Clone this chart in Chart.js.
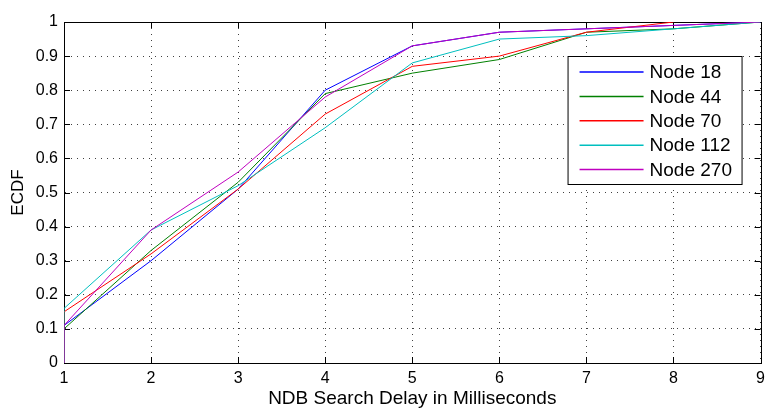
<!DOCTYPE html>
<html>
<head>
<meta charset="utf-8">
<script src="https://cdn.jsdelivr.net/npm/chart.js@4/dist/chart.umd.min.js"></script>
<style>
  html, body { margin: 0; padding: 0; background: #fff; }
  canvas { display: block; }
</style>
</head>
<body>
<canvas id="grafico" width="771" height="408"></canvas>
<script>
// datos (ECDF por nodo)
const nombres = ["Node 18", "Node 44", "Node 70", "Node 112", "Node 270"];
const colores = ["#0000ff", "#008000", "#ff0000", "#00bfbf", "#bf00bf"];

const retardoX = [1, 1, 2, 3, 4, 5, 6, 7, 8, 9];
const nodo18  = [0, 0.11, 0.30, 0.51, 0.80, 0.93, 0.97, 0.98, 0.99, 1.00];
const nodo44  = [0, 0.10, 0.33, 0.53, 0.79, 0.85, 0.89, 0.97, 0.98, 1.00];
const nodo70  = [0, 0.15, 0.32, 0.51, 0.73, 0.87, 0.90, 0.97, 1.00];
const nodo112 = [0, 0.16, 0.39, 0.52, 0.69, 0.88, 0.95, 0.96, 0.98, 1.00];
const nodo270 = [0, 0.11, 0.39, 0.56, 0.78, 0.93, 0.97, 0.98, 0.99, 1.00];

const ticksX = [1, 2, 3, 4, 5, 6, 7, 8, 9];
const ticksY = [0, 0.1, 0.2, 0.3, 0.4, 0.5, 0.6, 0.7, 0.8, 0.9, 1];

const fuente = "'Liberation Sans', Arial, Helvetica, sans-serif";
const series = [nodo18, nodo44, nodo70, nodo112, nodo270];

const datasets = series.map((ys, i) => ({
    label: nombres[i],
    data: ys.map((y, k) => ({ x: retardoX[k], y: y })),
    borderColor: colores[i],
    backgroundColor: colores[i],
    borderWidth: 1,
    pointRadius: 0,
    tension: 0,
    fill: false,
    order: series.length - i
}));

// caja del eje, marcas hacia dentro y leyenda estilo matlab
const estiloMatlab = {
    id: 'estiloMatlab',
    beforeDatasetsDraw(chart) {
        const ctx = chart.ctx;
        const a = chart.chartArea;
        const sx = chart.scales.x, sy = chart.scales.y;
        const largo = 6;
        ctx.save();
        ctx.strokeStyle = '#000';
        ctx.lineWidth = 1;
        ctx.strokeRect(Math.round(a.left) + 0.5, Math.round(a.top) + 0.5,
                       Math.round(a.right - a.left), Math.round(a.bottom - a.top));
        ctx.beginPath();
        ticksX.forEach(v => {
            const px = Math.round(sx.getPixelForValue(v)) + 0.5;
            ctx.moveTo(px, a.bottom); ctx.lineTo(px, a.bottom - largo);
            ctx.moveTo(px, a.top); ctx.lineTo(px, a.top + largo);
        });
        ticksY.forEach(v => {
            const py = Math.round(sy.getPixelForValue(v)) + 0.5;
            ctx.moveTo(a.left, py); ctx.lineTo(a.left + largo, py);
            ctx.moveTo(a.right, py); ctx.lineTo(a.right - largo, py);
        });
        ctx.stroke();
        ctx.restore();
    },
    afterDraw(chart) {
        const ctx = chart.ctx;
        const a = chart.chartArea;
        // leyenda
        const cajaX = a.right - 193, cajaY = a.top + 34, ancho = 174, alto = 128;
        ctx.save();
        ctx.fillStyle = '#fff';
        ctx.fillRect(cajaX, cajaY, ancho, alto);
        ctx.strokeStyle = '#000';
        ctx.lineWidth = 1;
        ctx.strokeRect(cajaX + 0.5, cajaY + 0.5, ancho, alto);
        ctx.font = '19px ' + fuente;
        ctx.textBaseline = 'middle';
        nombres.forEach((n, i) => {
            const fy = cajaY + 16 + i * 24.4;
            ctx.strokeStyle = colores[i];
            ctx.lineWidth = 1.5;
            ctx.beginPath();
            ctx.moveTo(cajaX + 12, fy); ctx.lineTo(cajaX + 76, fy);
            ctx.stroke();
            ctx.fillStyle = '#000';
            ctx.fillText(n, cajaX + 82, fy + 1);
        });
        ctx.restore();
    }
};

new Chart(document.getElementById('grafico').getContext('2d'), {
    type: 'line',
    data: { datasets: datasets },
    options: {
        responsive: false,
        animation: false,
        layout: { padding: { top: 22, right: 8, left: 0, bottom: 0 } },
        plugins: {
            legend: { display: false },
            tooltip: { enabled: false }
        },
        scales: {
            x: {
                type: 'linear',
                min: 1, max: 9,
                afterFit: s => { s.height = 45; },
                afterBuildTicks: s => { s.ticks = ticksX.map(v => ({ value: v })); },
                ticks: { color: '#000', padding: 6, font: { family: fuente, size: 16 }, maxRotation: 0 },
                grid: { color: 'rgba(0,0,0,0.75)', lineWidth: 1, drawTicks: false },
                border: { display: true, color: '#000', width: 1, dash: [1, 5] },
                title: { display: true, text: 'NDB Search Delay in Milliseconds', color: '#000',
                         font: { family: fuente, size: 19 }, padding: { top: 0, bottom: -2 } }
            },
            y: {
                min: 0, max: 1,
                afterFit: s => { s.width = 64; },
                afterBuildTicks: s => { s.ticks = ticksY.map(v => ({ value: v })); },
                ticks: { color: '#000', padding: 6, font: { family: fuente, size: 16 },
                         callback: v => String(Math.round(v * 10) / 10) },
                grid: { color: 'rgba(0,0,0,0.75)', lineWidth: 1, drawTicks: false },
                border: { display: true, color: '#000', width: 1, dash: [1, 5] },
                title: { display: true, text: 'ECDF', color: '#000',
                         font: { family: fuente, size: 17 }, padding: { top: 8, bottom: 0 } }
            }
        }
    },
    plugins: [estiloMatlab]
});
</script>
</body>
</html>
